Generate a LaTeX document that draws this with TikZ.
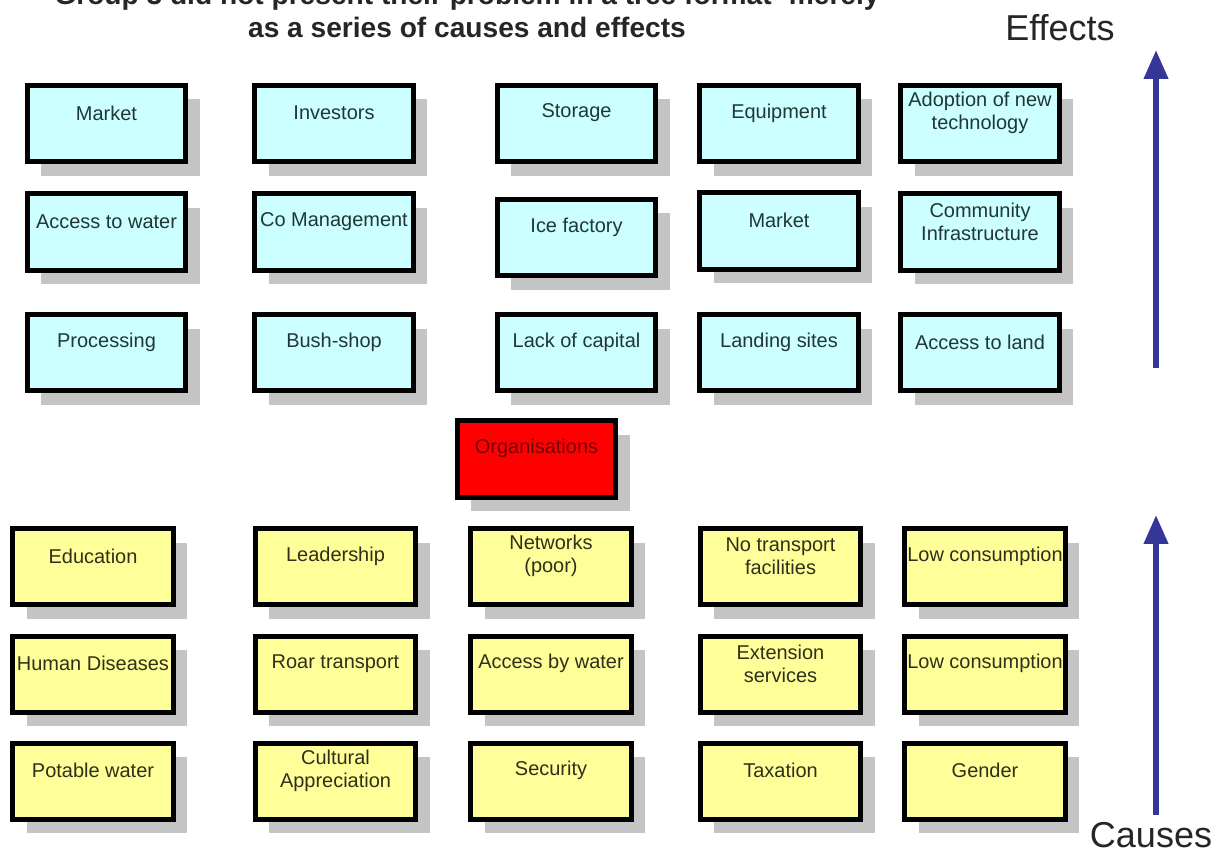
\documentclass[tikz,border=0pt]{standalone}
\usepackage{fontspec}
\setmainfont{Liberation Sans}
\usetikzlibrary{shadows,arrows.meta}

\definecolor{effectcyan}{HTML}{CCFFFF}
\definecolor{causeyellow}{HTML}{FFFF99}
\definecolor{shadowgrey}{HTML}{C4C4C4}
\definecolor{effecttext}{HTML}{213636}
\definecolor{causetext}{HTML}{30301A}
\definecolor{trendblue}{HTML}{363699}

\tikzset{
  boxtext/.style={font=\fontsize{14.2pt}{16.2pt}\selectfont, align=center, inner sep=0pt},
  boxbase/.style={rectangle, draw=black, line width=0.125cm, minimum height=1.9cm, inner sep=0pt,
    drop shadow={shadow xshift=0.35cm, shadow yshift=-0.35cm, fill=shadowgrey, opacity=1}},
  effect/.style={boxbase, fill=effectcyan, minimum width=3.95cm,
    label={[boxtext, text=effecttext, yshift=0.26cm]center:#1}},
  cause/.style={boxbase, fill=causeyellow, minimum width=4cm,
    label={[boxtext, text=causetext, yshift=0.26cm]center:#1}},
  organisation/.style={boxbase, fill=red, minimum width=3.95cm,
    label={[boxtext, text=red!45!black, yshift=0.26cm]center:#1}},
  trend/.style={draw=trendblue, line width=0.15cm, -{Triangle[length=0.72cm, width=0.58cm]}},
  heading/.style={font=\fontsize{20pt}{21pt}\selectfont\bfseries, text=black!85, inner sep=0pt},
  sidenote/.style={font=\fontsize{25.6pt}{27pt}\selectfont, text=black!85, inner sep=0pt}
}

\begin{document}
\begin{tikzpicture}[x=0.025cm, y=-0.025cm]
 \useasboundingbox (0,0) rectangle (1220,855);
 \clip (0,0) rectangle (1220,855);
 \fill[white] (0,0) rectangle (1220,855);

 \node[heading, anchor=base] (title1) at (467,5) {Group 3 did not present their problem in a tree format- merely};
 \node[heading, anchor=base] (title2) at (467,37) {as a series of causes and effects};

 % effects
 \node[effect={Market}] (market1) at (106.5,123.5) {};
 \node[effect={Investors}] (investors) at (334,123.5) {};
 \node[effect={Storage}] (storage) at (576.5,123.5) {};
 \node[effect={Equipment}] (equipment) at (779,123.5) {};
 \node[effect={Adoption of new\\technology}] (adoption) at (980,123.5) {};

 \node[effect={Access to water}] (watera) at (106.5,232) {};
 \node[effect={Co Management}] (comanage) at (334,232) {};
 \node[effect={Ice factory}] (icefactory) at (576.5,237.5) {};
 \node[effect={Market}] (market2) at (779,231) {};
 \node[effect={Community\\Infrastructure}] (community) at (980,232) {};

 \node[effect={Processing}] (processing) at (106.5,352.5) {};
 \node[effect={Bush-shop}] (bushshop) at (334,352.5) {};
 \node[effect={Lack of capital}] (capital) at (576.5,352.5) {};
 \node[effect={Landing sites}] (landing) at (779,352.5) {};
 \node[effect={Access to land}] (land) at (980,352.5) {};

 \node[organisation={Organisations}] (organisations) at (536.5,459) {};

 % causes
 \node[cause={Education}] (education) at (93,566.5) {};
 \node[cause={Leadership}] (leadership) at (335.5,566.5) {};
 \node[cause={Networks\\(poor)}] (networks) at (551,566.5) {};
 \node[cause={No transport\\facilities}] (transport) at (780.5,566.5) {};
 \node[cause={Low consumption}] (lowcons1) at (985,566.5) {};

 \node[cause={Human Diseases}] (diseases) at (93,674) {};
 \node[cause={Roar transport}] (roar) at (335.5,674) {};
 \node[cause={Access by water}] (waterb) at (551,674) {};
 \node[cause={Extension\\services}] (extension) at (780.5,674) {};
 \node[cause={Low consumption}] (lowcons2) at (985,674) {};

 \node[cause={Potable water}] (potable) at (93,781) {};
 \node[cause={Cultural\\Appreciation}] (cultural) at (335.5,781) {};
 \node[cause={Security}] (security) at (551,781) {};
 \node[cause={Taxation}] (taxation) at (780.5,781) {};
 \node[cause={Gender}] (gender) at (985,781) {};

 % side arrows
 \node[sidenote, anchor=base] (effectslabel) at (1060,40) {Effects};
 \coordinate (effectsfoot) at (1156,368);
 \coordinate (effectstip) at (1156,50);
 \draw[trend] (effectsfoot) -- (effectstip);

 \node[sidenote, anchor=base] (causeslabel) at (1151,847) {Causes};
 \coordinate (causesfoot) at (1156,815);
 \coordinate (causestip) at (1156,515);
 \draw[trend] (causesfoot) -- (causestip);
\end{tikzpicture}
\end{document}
